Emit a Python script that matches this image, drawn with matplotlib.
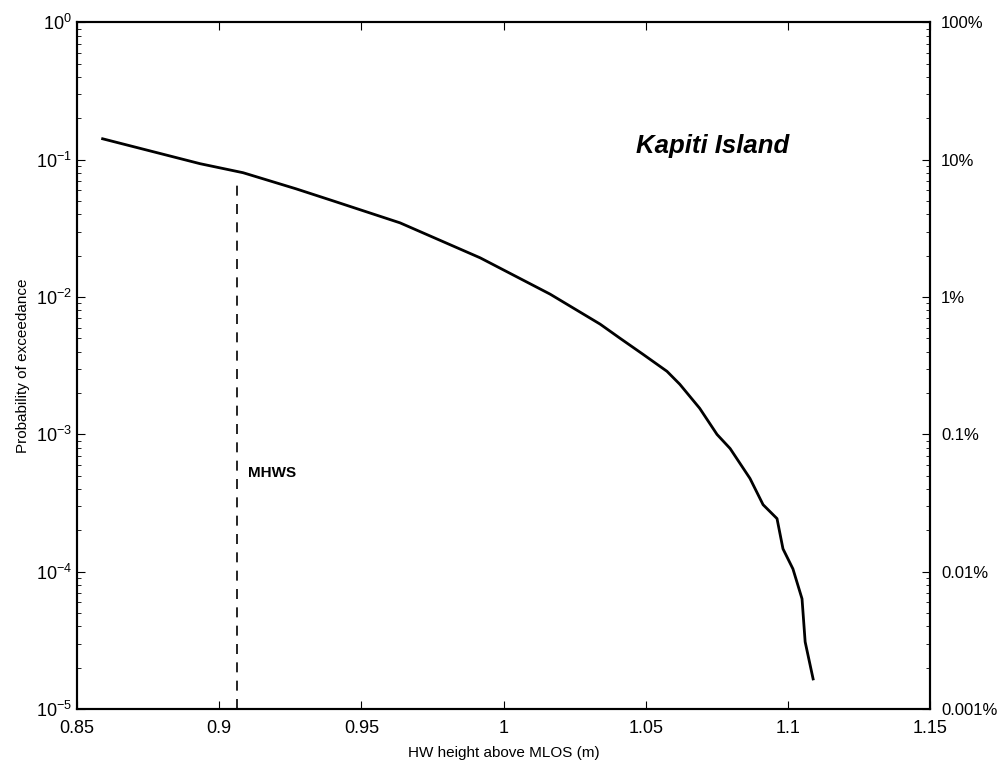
import matplotlib
matplotlib.use("Agg")
import matplotlib.pyplot as plt
from matplotlib.ticker import LogLocator, FixedLocator, NullFormatter

plt.rcParams['font.family'] = ['Liberation Sans', 'DejaVu Sans']
plt.rcParams['mathtext.fontset'] = 'custom'
plt.rcParams['mathtext.rm'] = 'Liberation Sans'

# exceedance curve
height = [0.859, 0.8933, 0.9084, 0.927, 0.94, 0.9636, 0.9918, 1.0164, 1.034,
          1.041, 1.049, 1.0575, 1.062, 1.069, 1.0751, 1.0797, 1.0867, 1.0913,
          1.0962, 1.0983, 1.1018, 1.105, 1.1061, 1.1089]
prob = [0.142, 0.0935, 0.0804, 0.0614, 0.0502, 0.0347, 0.0193, 0.0105, 0.00635,
        0.00501, 0.00384, 0.00288, 0.00232, 0.00155, 0.001, 7.9e-4, 4.78e-4,
        3.08e-4, 2.44e-4, 1.47e-4, 1.05e-4, 6.36e-5, 3.09e-5, 1.66e-5]

mhws_x = 0.9063
mhws_top = 0.068

xticks = [0.85, 0.9, 0.95, 1.0, 1.05, 1.1, 1.15]
xtick_labels = ['0.85', '0.9', '0.95', '1', '1.05', '1.1', '1.15']
pct_ticks = [1, 0.1, 0.01, 0.001, 0.0001, 0.00001]
pct_labels = ['100%', '10%', '1%', '0.1%', '0.01%', '0.001%']

fig = plt.figure(figsize=(10.07, 7.7), dpi=100)
ax = fig.add_axes([0.0765, 0.079, 0.847, 0.892])

ax.plot(height, prob, color='black', linewidth=2.0)
ax.plot([mhws_x, mhws_x], [1e-5, mhws_top], color='black', linestyle=(0, (6, 5)), linewidth=1.2)
ax.text(mhws_x + 0.004, 1e-3 * 0.52, 'MHWS', fontsize=11, fontweight='bold', va='center')
ax.text(1.0735, 0.125, 'Kapiti Island', fontsize=18.5, fontstyle='italic', fontweight='bold',
        ha='center', va='center')

ax.set_yscale('log')
ax.set_xlim(0.85, 1.15)
ax.set_ylim(1e-5, 1)
ax.xaxis.set_major_locator(FixedLocator(xticks))
ax.set_xticklabels(xtick_labels)
ax.yaxis.set_major_locator(LogLocator(base=10, numticks=10))
ax.yaxis.set_minor_locator(LogLocator(base=10, subs=range(2, 10), numticks=20))
ax.yaxis.set_minor_formatter(NullFormatter())
ax.tick_params(axis='both', which='both', direction='in', top=True, labelsize=13)
ax.tick_params(axis='y', which='major', length=6, right=False)
ax.tick_params(axis='y', which='minor', length=3, right=False)
ax.tick_params(axis='x', which='major', length=6, pad=8)

ax.set_xlabel('HW height above MLOS (m)', fontsize=11, labelpad=6)
ax.set_ylabel('Probability of exceedance', fontsize=11, labelpad=4)

ax2 = ax.twinx()
ax2.set_yscale('log')
ax2.set_ylim(1e-5, 1)
ax2.yaxis.set_major_locator(FixedLocator(pct_ticks))
ax2.set_yticklabels(pct_labels)
ax2.yaxis.set_minor_locator(LogLocator(base=10, subs=range(2, 10), numticks=20))
ax2.yaxis.set_minor_formatter(NullFormatter())
ax2.tick_params(axis='y', which='major', direction='in', length=6, labelsize=12, pad=8)
ax2.tick_params(axis='y', which='minor', direction='in', length=3)

for a in (ax, ax2):
    for s in a.spines.values():
        s.set_linewidth(1.5)

fig.savefig('out.png', dpi=100, facecolor='white')
